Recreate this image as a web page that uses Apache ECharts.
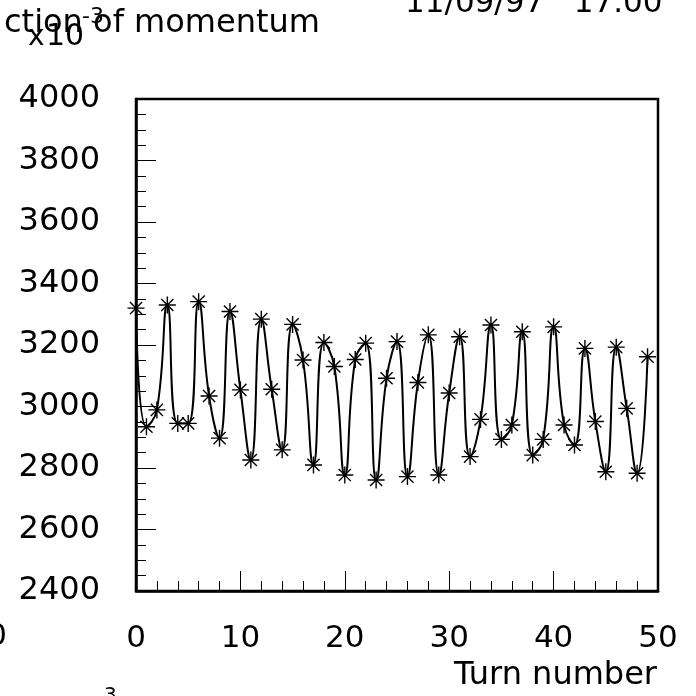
<!DOCTYPE html>
<html>
<head>
<meta charset="utf-8">
<script src="https://cdn.jsdelivr.net/npm/echarts@6/dist/echarts.min.js"></script>
<style>
html,body{margin:0;padding:0;background:#fff;}
#c{width:696px;height:696px;}
</style>
</head>
<body>
<div id="c"></div>
<script>
var turns = [0,1,2,3,4,5,6,7,8,9,10,11,12,13,14,15,16,17,18,19,20,21,22,23,24,25,26,27,28,29,30,31,32,33,34,35,36,37,38,39,40,41,42,43,44,45,46,47,48,49];
var momentum = [3320,2934,2989,3330,2945,2945,3341,3034,2897,3309,3054,2826,3284,3056,2859,3267,3151,2810,3208,3130,2777,3153,3206,2761,3092,3211,2772,3078,3233,2777,3044,3227,2837,2958,3265,2893,2940,3243,2842,2893,3259,2940,2875,3189,2951,2788,3193,2994,2783,3162];
var yTicks = [2400,2600,2800,3000,3200,3400,3600,3800,4000];
var xTicks = [0,10,20,30,40,50];
var titleText = 'ction of momentum';
var xName = 'Turn number';
var dateText = '11/09/97   17.00';

var FONT = 'DejaVu Sans';
var chart = echarts.init(document.getElementById('c'), null, {renderer:'canvas'});
var pts = turns.map(function(t,i){return [t, momentum[i]];});
var star = 'path://M8,0L8,16M0,8L16,8M2.3,2.3L13.7,13.7M2.3,13.7L13.7,2.3';

chart.setOption({
  animation:false,
  backgroundColor:'#fff',
  grid:{left:136,right:38,top:99,bottom:105,show:true,borderColor:'#000',borderWidth:2.5,backgroundColor:'transparent'},
  xAxis:{
    type:'value', min:xTicks[0], max:xTicks[xTicks.length-1], interval:10,
    axisLine:{show:true,onZero:false,lineStyle:{color:'#000',width:2.5}},
    axisTick:{show:true,inside:true,length:20,lineStyle:{color:'#000',width:1}},
    minorTick:{show:true,splitNumber:5,length:10,lineStyle:{color:'#000',width:1}},
    splitLine:{show:false},
    axisLabel:{color:'#000',fontFamily:FONT,fontSize:31,margin:32,lineHeight:31,formatter:function(v){return String(v);}}
  },
  yAxis:{
    type:'value', min:yTicks[0], max:yTicks[yTicks.length-1], interval:200,
    axisLine:{show:true,onZero:false,lineStyle:{color:'#000',width:2.5}},
    axisTick:{show:true,inside:true,length:20,lineStyle:{color:'#000',width:1}},
    minorTick:{show:true,splitNumber:4,length:10,lineStyle:{color:'#000',width:1}},
    splitLine:{show:false},
    axisLabel:{color:'#000',fontFamily:FONT,fontSize:32,margin:36,formatter:function(v){return String(v);}}
  },
  series:[{
    type:'line',
    data:pts,
    smooth:0.5,
    clip:true,
    symbol:star,
    symbolSize:17,
    showAllSymbol:true,
    lineStyle:{color:'#000',width:2},
    itemStyle:{color:'#000',borderColor:'#000',borderWidth:1.4}
  }],
  graphic:[
    {type:'text',x:4,y:8,style:{text:titleText,font:'32px "DejaVu Sans"',fill:'#000'}},
    {type:'text',x:28,y:24,style:{text:'x',font:'28px "DejaVu Sans"',fill:'#000'}},
    {type:'text',x:46,y:22,style:{text:'10',font:'30px "DejaVu Sans"',fill:'#000'}},
    {type:'text',x:82,y:6,style:{text:'-3',font:'22px "DejaVu Sans"',fill:'#000'}},
    {type:'text',x:405,y:-12,style:{text:dateText,font:'31px "DejaVu Sans"',fill:'#000'}},
    {type:'text',x:657,y:676,style:{text:xName,font:'32px "DejaVu Sans"',fill:'#000',align:'right',verticalAlign:'middle'}},
    {type:'text',x:7,y:637,style:{text:'0',font:'31px "DejaVu Sans"',fill:'#000',align:'right',verticalAlign:'middle'}},
    {type:'text',x:104,y:686,style:{text:'3',font:'20px "DejaVu Sans"',fill:'#000'}}
  ]
});
</script>
</body>
</html>
